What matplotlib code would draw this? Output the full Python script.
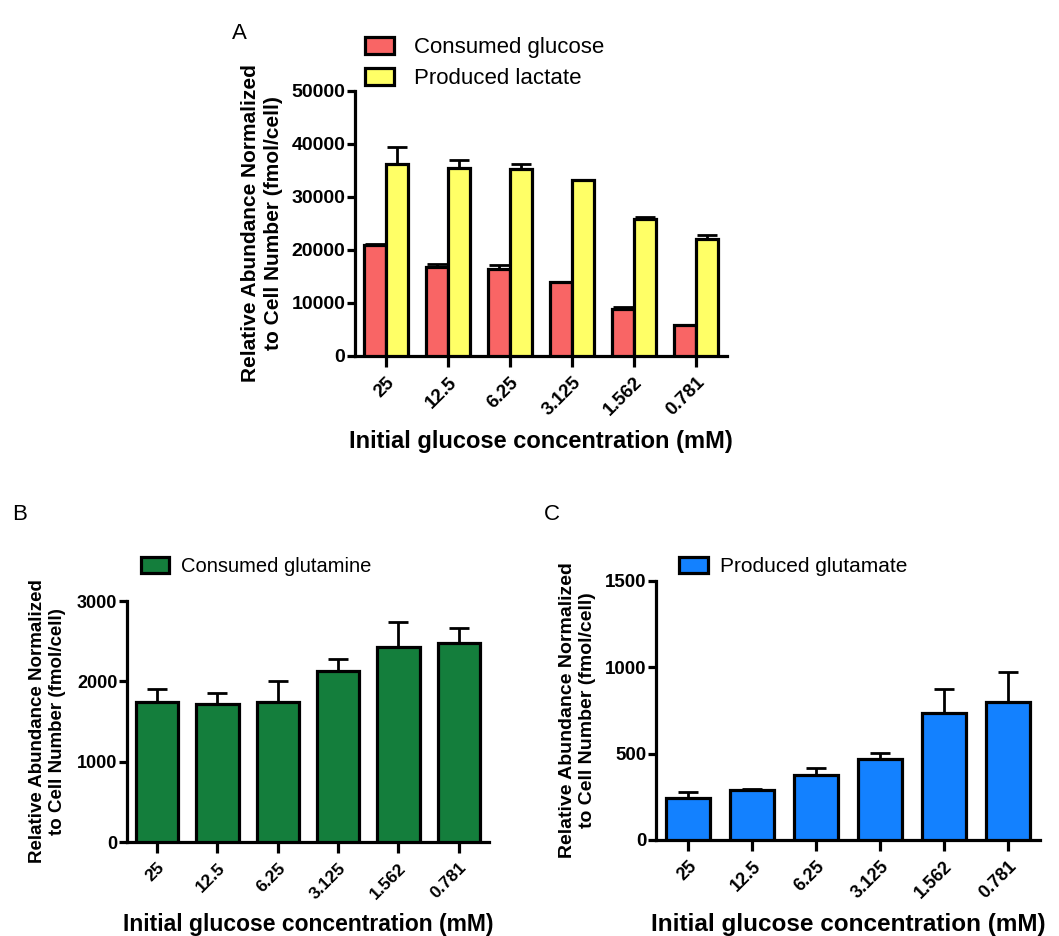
import matplotlib.pyplot as plt
import numpy as np

plt.rcParams['font.family'] = ['Liberation Sans', 'DejaVu Sans']

concentrations = ['25', '12.5', '6.25', '3.125', '1.562', '0.781']

glucose = [20850, 16830, 16460, 14000, 8920, 5780]
glucose_err = [250, 440, 690, 0, 250, 120]
lactate = [36300, 35550, 35300, 33290, 25750, 22110]
lactate_err = [3150, 1510, 880, 0, 510, 630]

glutamine = [1741, 1716, 1741, 2127, 2430, 2480]
glutamine_err = [162, 141, 261, 154, 304, 183]

glutamate = [243, 289, 378, 470, 738, 800]
glutamate_err = [35, 4, 38, 31, 137, 174]

red = '#F96565'
yellow = '#FFFF66'
green = '#147E3C'
blue = '#1381FF'

ylabel = 'Relative Abundance Normalized\nto Cell Number (fmol/cell)'
xlabel = 'Initial glucose concentration (mM)'

fig = plt.figure(figsize=(10.59, 9.36), dpi=100)


def style_axes(ax, ylim, yticks, xfs, yfs, ypad, tfs):
    x = np.arange(len(concentrations))
    ax.set_xlim(-0.5, len(concentrations) - 0.5)
    ax.set_ylim(*ylim)
    ax.set_yticks(yticks)
    ax.set_xticks(x)
    ax.set_xticklabels(concentrations, rotation=45, ha='right',
                       rotation_mode='anchor', fontsize=tfs - 0.5,
                       fontweight='bold')
    for lbl in ax.get_yticklabels():
        lbl.set_fontweight('bold')
        lbl.set_fontsize(tfs)
    ax.spines['top'].set_visible(False)
    ax.spines['right'].set_visible(False)
    ax.spines['left'].set_linewidth(2.3)
    ax.spines['bottom'].set_linewidth(2.3)
    ax.tick_params(axis='x', length=8, width=2.3, pad=5)
    ax.tick_params(axis='y', length=6, width=2.3, pad=1)
    ax.set_xlabel(xlabel, fontsize=xfs, fontweight='bold', labelpad=8)
    ax.set_ylabel(ylabel, fontsize=yfs, fontweight='bold', labelpad=ypad,
                  linespacing=1.25)


def bars(ax, pos, vals, errs, width, color, label):
    b = ax.bar(pos, vals, width, color=color, edgecolor='black',
               linewidth=2.3, label=label, zorder=3)
    ax.errorbar(pos, vals, yerr=[np.zeros(len(errs)), errs], fmt='none',
                ecolor='black', elinewidth=2, capsize=7, capthick=2, zorder=2)
    return b


x = np.arange(len(concentrations))

# panel A
axA = fig.add_axes([0.3352, 0.6197, 0.3513, 0.2831])
bars(axA, x - 0.175, glucose, glucose_err, 0.35, red, 'Consumed glucose')
bars(axA, x + 0.175, lactate, lactate_err, 0.35, yellow, 'Produced lactate')
style_axes(axA, (0, 50000), np.arange(0, 50001, 10000), 17, 15, 6, 14)
axA.legend(loc='upper left', bbox_to_anchor=(0.3365, 0.97),
           bbox_transform=fig.transFigure, frameon=False, fontsize=16,
           handlelength=1.3, handleheight=0.8, handletextpad=0.9,
           labelspacing=0.45, borderaxespad=0)

# panel B
axB = fig.add_axes([0.1199, 0.1004, 0.3418, 0.2575])
bars(axB, x, glutamine, glutamine_err, 0.7, green, 'Consumed glutamine')
style_axes(axB, (0, 3000), np.arange(0, 3001, 1000), 16.5, 13.5, 8, 13)
axB.legend(loc='upper left', bbox_to_anchor=(0.1255, 0.414),
           bbox_transform=fig.transFigure, frameon=False, fontsize=14.5,
           handlelength=1.4, handleheight=0.85, handletextpad=0.6,
           borderaxespad=0)

# panel C
axC = fig.add_axes([0.6195, 0.1026, 0.3626, 0.2767])
bars(axC, x, glutamate, glutamate_err, 0.69, blue, 'Produced glutamate')
style_axes(axC, (0, 1500), np.arange(0, 1501, 500), 17.5, 14, 6, 13.5)
axC.legend(loc='upper left', bbox_to_anchor=(0.633, 0.414),
           bbox_transform=fig.transFigure, frameon=False, fontsize=15,
           handlelength=1.4, handleheight=0.85, handletextpad=0.6,
           borderaxespad=0)

fig.text(0.219, 0.975, 'A', fontsize=16, va='top')
fig.text(0.011, 0.462, 'B', fontsize=16, va='top')
fig.text(0.514, 0.462, 'C', fontsize=16, va='top')

fig.savefig('out.png', dpi=100, facecolor='white')
